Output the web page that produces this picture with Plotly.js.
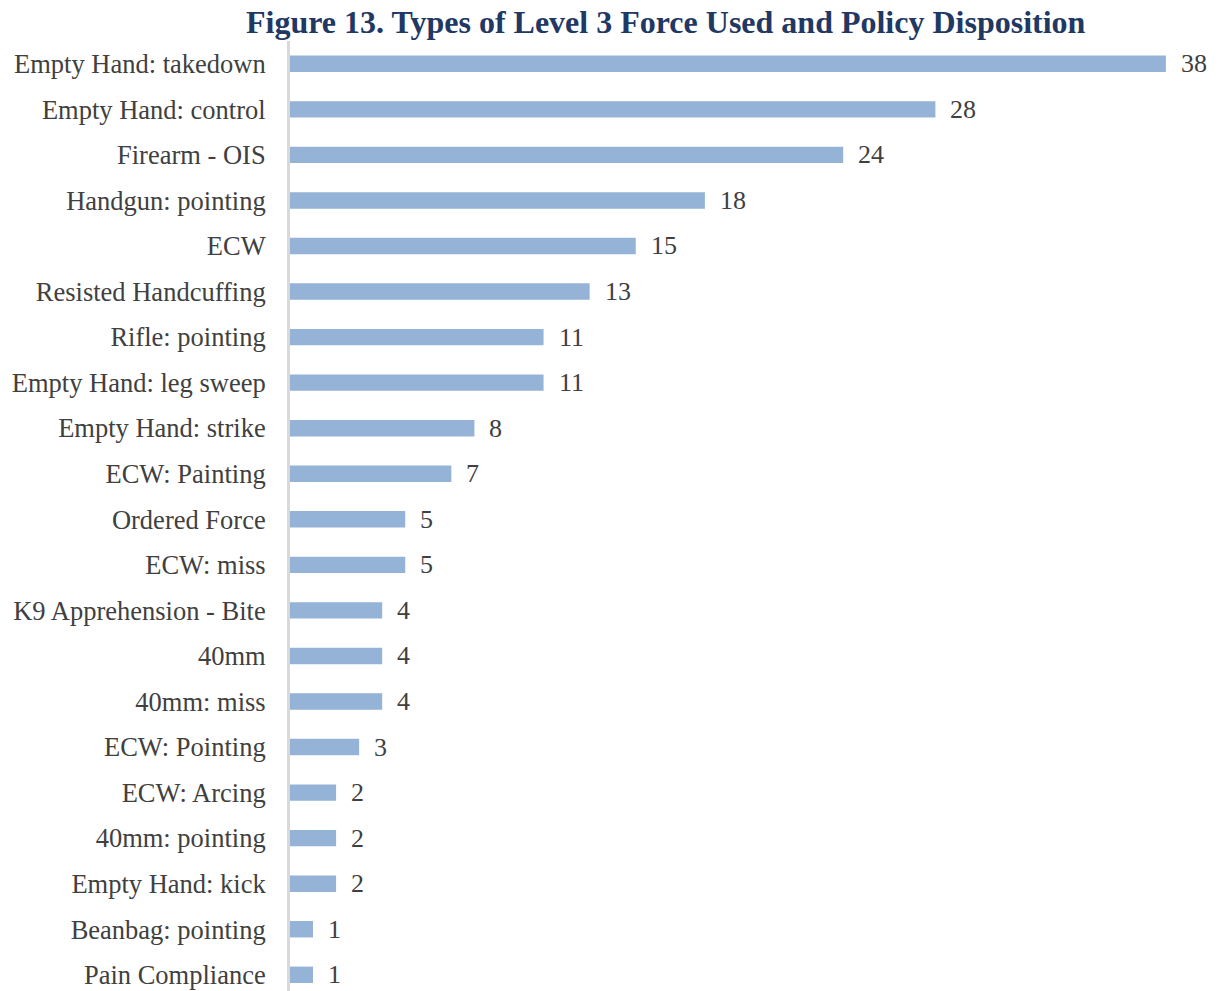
<!DOCTYPE html>
<html>
<head>
<meta charset="utf-8">
<script src="https://cdn.plot.ly/plotly-3.0.1.min.js"></script>
<style>
  html, body { margin: 0; padding: 0; background: #fff; }
  #chart { width: 1217px; height: 991px; }
</style>
</head>
<body>
<div id="chart"></div>
<script>
// Level 3 force types, ordered as listed (top to bottom)
const categories = [
  "Empty Hand: takedown",
  "Empty Hand: control",
  "Firearm - OIS",
  "Handgun: pointing",
  "ECW",
  "Resisted Handcuffing",
  "Rifle: pointing",
  "Empty Hand: leg sweep",
  "Empty Hand: strike",
  "ECW: Painting",
  "Ordered Force",
  "ECW: miss",
  "K9 Apprehension - Bite",
  "40mm",
  "40mm: miss",
  "ECW: Pointing",
  "ECW: Arcing",
  "40mm: pointing",
  "Empty Hand: kick",
  "Beanbag: pointing",
  "Pain Compliance"
];
const counts = [38, 28, 24, 18, 15, 13, 11, 11, 8, 7, 5, 5, 4, 4, 4, 3, 2, 2, 2, 1, 1];

const serif = "'Liberation Serif', 'Times New Roman', serif";
const textGray = "#404040";

const trace = {
  type: "bar",
  orientation: "h",
  y: categories,
  x: counts,
  marker: { color: "#95b3d7" },
  hoverinfo: "none"
};

// Value labels sit just right of each bar end
const annotations = categories.map((c, i) => ({
  x: counts[i],
  y: c,
  xref: "x",
  yref: "y",
  text: String(counts[i]),
  showarrow: false,
  xanchor: "left",
  yanchor: "middle",
  xshift: 13,
  font: { family: serif, size: 26, color: textGray }
}));

const layout = {
  width: 1217,
  height: 991,
  paper_bgcolor: "#ffffff",
  plot_bgcolor: "#ffffff",
  margin: { l: 290, r: 5, t: 41, b: 0, pad: 0 },
  bargap: 0.64,
  showlegend: false,
  title: {
    text: "<b>Figure 13. Types of Level 3 Force Used and Policy Disposition</b>",
    font: { family: serif, size: 32, color: "#1f3864" },
    x: 0.547,
    xanchor: "center",
    y: 0.978,
    yanchor: "middle"
  },
  xaxis: {
    range: [0, 40],
    visible: false,
    showgrid: false,
    zeroline: false
  },
  yaxis: {
    type: "category",
    range: [20.356, -0.5],
    showgrid: false,
    zeroline: false,
    showline: true,
    linecolor: "#d9d9d9",
    linewidth: 3,
    ticks: "outside",
    ticklen: 16,
    tickcolor: "rgba(0,0,0,0)",
    tickfont: { family: serif, size: 26.5, color: textGray }
  },
  annotations: annotations
};

Plotly.newPlot("chart", [trace], layout, { displayModeBar: false, staticPlot: true });
</script>
</body>
</html>
